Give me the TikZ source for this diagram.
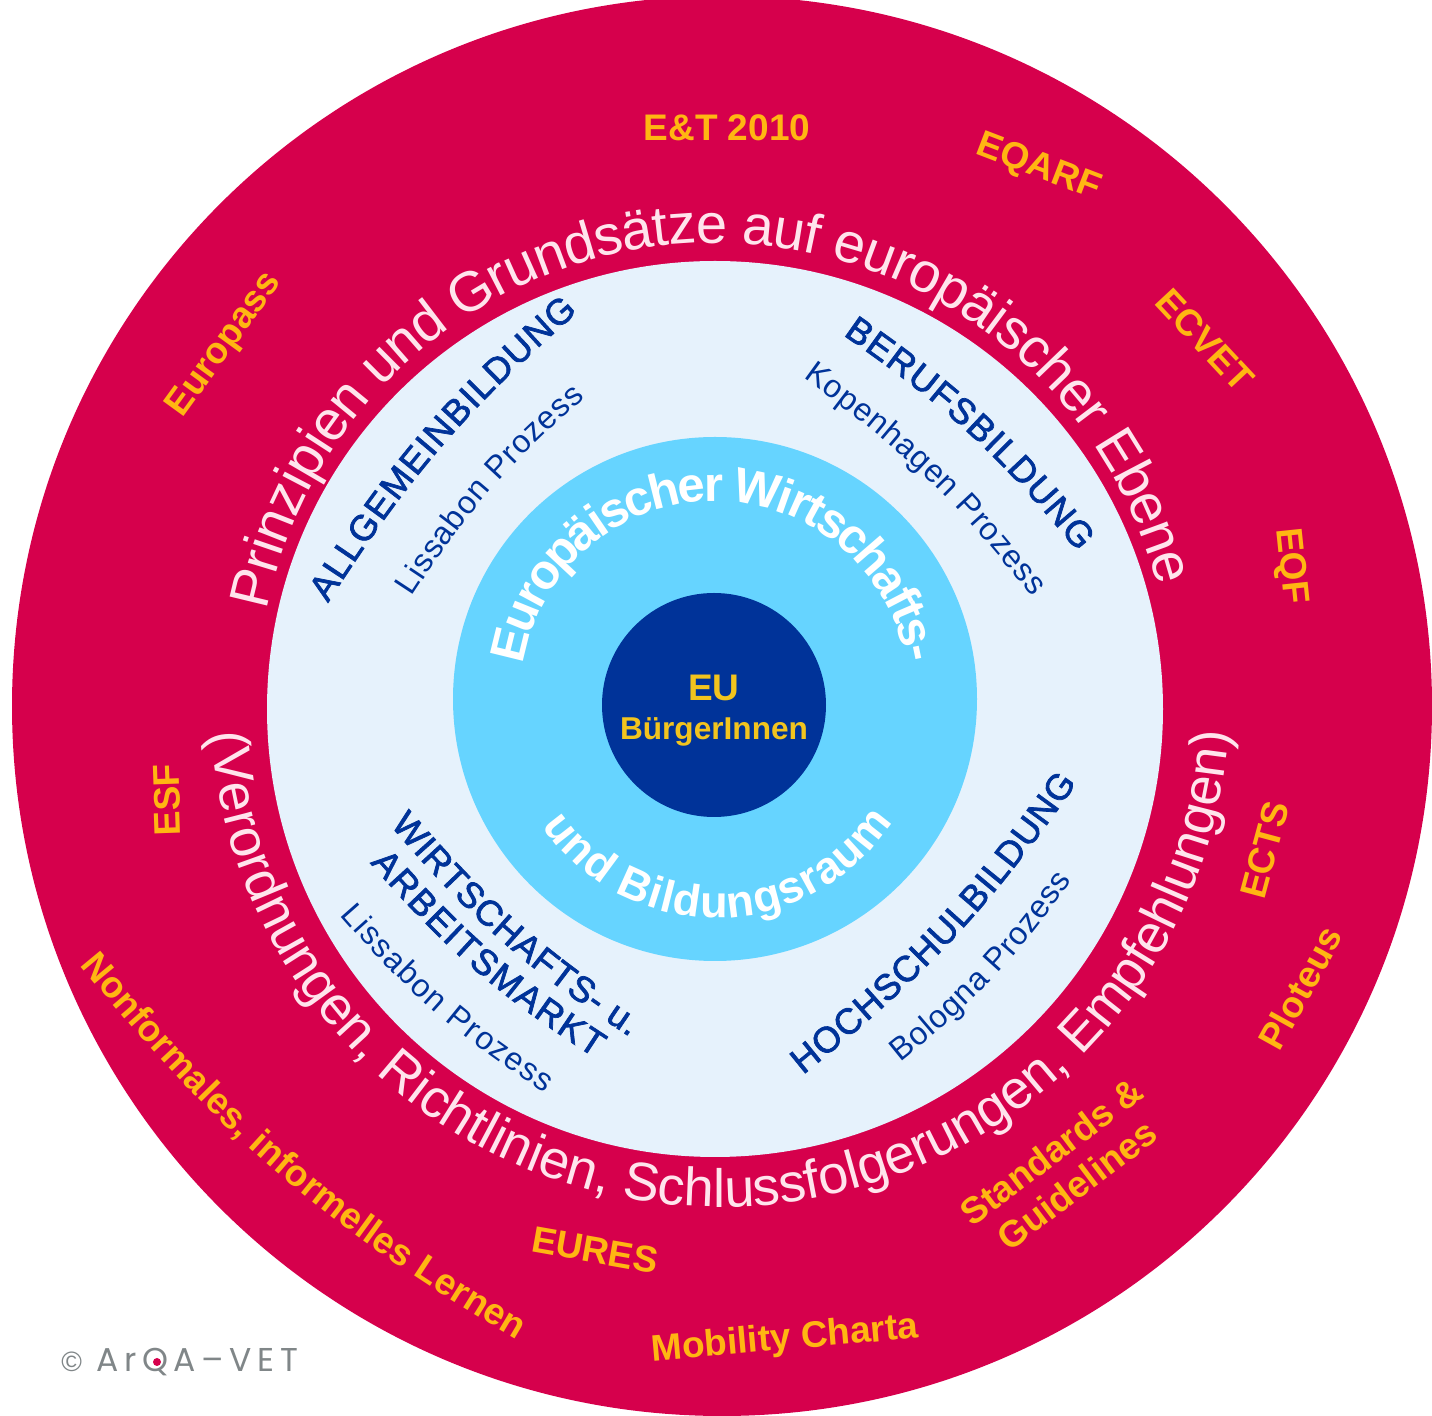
\documentclass[tikz,border=0pt]{standalone}
\usepackage{fontspec}
\setmainfont{Liberation Sans}
\newfontfamily\logofont[LetterSpace=17]{Poppins}
\newfontfamily\headfont[FakeBold=2]{Liberation Sans}
\usetikzlibrary{decorations.text}
\definecolor{ringred}{HTML}{D6004C}
\definecolor{paleblue}{HTML}{E6F2FC}
\definecolor{skyblue}{HTML}{66D4FF}
\definecolor{darkblue}{HTML}{003399}
\definecolor{labelyellow}{HTML}{FFB612}
\definecolor{coreyellow}{HTML}{F2C41E}
\definecolor{logogrey}{HTML}{808688}
\definecolor{palepink}{HTML}{FFE4EC}
\tikzset{
  yellowlabel/.style={text=labelyellow, font=\bfseries\fontsize{18.5}{21}\selectfont, inner sep=0pt, align=center},
  corelabel/.style={text=coreyellow, inner sep=0pt},
}
\newcommand{\bigwhite}{\fontsize{28}{32}\selectfont\color{palepink}}
\newcommand{\lowbig}{\fontsize{27}{31}\selectfont\color{palepink}}
\newcommand{\midwhite}{\bfseries\fontsize{24.5}{28}\selectfont\color{white}}
\newcommand{\lowwhite}{\bfseries\fontsize{22.5}{26}\selectfont\color{white}}
\newcommand{\bluehead}{\headfont\fontsize{18}{20}\selectfont\color{darkblue}}
\newcommand{\bluesub}{\fontsize{16}{18}\selectfont\color{darkblue}}
\newcommand{\yellowcurve}{\bfseries\fontsize{18.5}{21}\selectfont\color{labelyellow}}
% centre, radius, start angle, end angle, raise, format, text
\newcommand{\arclabel}[7]{\path[decorate, decoration={text along path, text align={fit to path}, raise=#5, text={|#6|#7}}]
  (#1) ++(#3:#2) arc[start angle=#3, end angle=#4, radius=#2];}
% start, end, bend, format, text
\newcommand{\bendlabel}[5]{\path[decorate, decoration={text along path, text align={fit to path}, text={|#4|#5}}]
  (#1) to[#3] (#2);}
\begin{document}
\begin{tikzpicture}[x=0.5pt, y=0.5pt]
  \useasboundingbox (0,0) rectangle (1432,-1416);
  \clip (0,0) rectangle (1432,-1416);
  \fill[ringred] (722,-706) circle[radius=710];
  \fill[paleblue] (715,-709) circle[radius=448];
  \fill[skyblue] (715,-699) circle[radius=262];
  \fill[darkblue] (714,-705) circle[radius=112];

  \node[corelabel, font=\bfseries\fontsize{18.5}{22}\selectfont] (eu) at (714,-688) {EU};
  \node[corelabel, font=\bfseries\fontsize{15.8}{18}\selectfont] (citizens) at (714,-732) {BürgerInnen};

  \arclabel{715,-695}{220}{170.4}{9.6}{-13pt}{\midwhite}{Europäischer Wirtschafts-}
  \arclabel{716,-708}{210}{214.2}{327.1}{0pt}{\lowwhite}{und Bildungsraum}
  \arclabel{715,-700}{481}{168.6}{14.5}{-12pt}{\bigwhite}{Prinzipien und Grundsätze auf europäischer Ebene}
  \arclabel{720,-697}{517}{184}{356}{3.5pt}{\lowbig}{(Verordnungen, Richtlinien, Schlussfolgerungen, Empfehlungen)}

  \bendlabel{328,-603}{578,-312}{bend left=8}{\bluehead}{ALLGEMEINBILDUNG}
  \bendlabel{412,-597}{585,-398}{bend left=8}{\bluesub}{Lissabon Prozess}
  \bendlabel{843,-335}{1078,-552}{bend left=8}{\bluehead}{BERUFSBILDUNG}
  \bendlabel{803,-378}{1032,-597}{bend left=8}{\bluesub}{Kopenhagen Prozess}
  \bendlabel{390,-825}{630,-1037}{bend right=8}{\bluehead}{WIRTSCHAFTS- u.}
  \bendlabel{370,-863}{595,-1058}{bend right=8}{\bluehead}{ARBEITSMARKT}
  \bendlabel{340,-915}{545,-1093}{bend right=8}{\bluesub}{Lissabon Prozess}
  \bendlabel{803,-1075}{1077,-783}{bend right=8}{\bluehead}{HOCHSCHULBILDUNG}
  \bendlabel{900,-1062}{1072,-880}{bend right=8}{\bluesub}{Bologna Prozess}

  \node[yellowlabel] (et) at (727,-128) {E\&T 2010};
  \node[yellowlabel, rotate=-21] (eqarf) at (1038,-168) {EQARF};
  \node[yellowlabel, rotate=-47] (ecvet) at (1205,-340) {ECVET};
  \node[yellowlabel, rotate=-84] (eqf) at (1290,-566) {EQF};
  \node[yellowlabel, rotate=54] (europass) at (225,-345) {Europass};
  \node[yellowlabel, rotate=92] (esf) at (167,-800) {ESF};
  \node[yellowlabel, rotate=75] (ects) at (1265,-850) {ECTS};
  \node[yellowlabel, rotate=61] (ploteus) at (1300,-988) {Ploteus};
  \node[yellowlabel, rotate=37] (standards) at (1064,-1168) {Standards \&\\Guidelines};
  \node[yellowlabel, rotate=-10] (eures) at (595,-1250) {EURES};
  \node[yellowlabel, rotate=5] (charta) at (785,-1340) {Mobility Charta};
  \bendlabel{80,-965}{517,-1340}{bend right=10}{\yellowcurve}{Nonformales, informelles Lernen}

  \node[text=logogrey, inner sep=0pt, anchor=west, font=\fontsize{14}{16}\selectfont] (copyright) at (61,-1362) {©};
  \node[text=logogrey, inner sep=0pt, anchor=west, font=\logofont\fontsize{16.5}{18}\selectfont] (logo) at (96,-1362) {ArQA–VET};
  \fill[ringred] (157,-1362) circle[radius=4];
\end{tikzpicture}
\end{document}
